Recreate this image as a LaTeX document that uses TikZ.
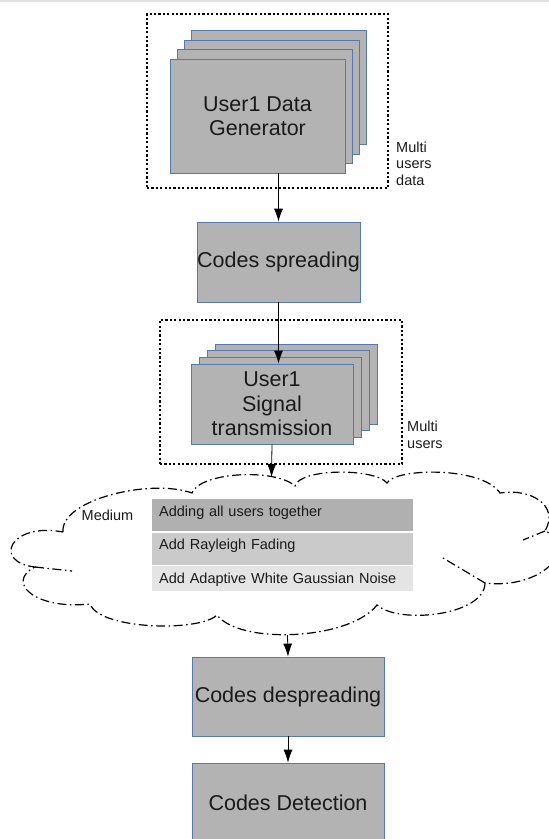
\documentclass[tikz,border=0pt]{standalone}
\usepackage{fontspec}
\setmainfont{Liberation Sans}
\usepackage{tikz}
\usetikzlibrary{arrows.meta,shapes,calc}
\definecolor{cajagris}{HTML}{B3B3B3}
\definecolor{bordeazul}{HTML}{5478B0}
\definecolor{texto}{HTML}{1A1A1A}
\definecolor{fila1}{HTML}{B0B0B0}
\definecolor{fila2}{HTML}{CACACA}
\definecolor{fila3}{HTML}{E4E4E4}
\tikzstyle{edge}=[-{Latex[length=13pt,width=9pt]}, line width=0.8pt]

\begin{document}
\begin{tikzpicture}[x=1pt,y=-1pt,
          caja/.style={rectangle,draw=bordeazul,fill=cajagris,line width=0.8pt,
                       text=texto,inner sep=0pt,align=center,
                       font=\fontsize{21.5}{24.5}\selectfont},
          marco/.style={rectangle,draw=black,line width=1.5pt,
                        dash pattern=on 2.2pt off 2.2pt,inner sep=0pt},
          nube/.style={draw=black,line width=1.2pt,
                       dash pattern=on 9pt off 3.5pt on 1.5pt off 3.5pt},
          nota/.style={anchor=north west,inner sep=0pt,align=left,text=texto,
                       font=\fontsize{14.5}{16.5}\selectfont},
          fila/.style={rectangle,anchor=north west,inner xsep=7pt,inner ysep=0pt,
                       text width=247pt,align=left,text=texto,
                       font=\fontsize{14.5}{16}\selectfont}]
        \useasboundingbox (0,0) rectangle (549,839);
        \fill[black!12] (0,0) rectangle (549,2);

        % generadores de datos
        \node [marco,minimum width=241pt,minimum height=174pt] (m1) at (267.5,101) {};
        \foreach \i in {3,2,1}
          \node [caja,minimum width=175pt,minimum height=114pt] (g\i) at ({257.5+7*\i},{116-9.5*\i}) {};
        \node [caja,minimum width=175pt,minimum height=114pt] (gen) at (257.5,116) {User1 Data\\Generator};
        \node [nota] (n1) at (396,141.5) {Multi\\users\\data};

        \node [caja,minimum width=163pt,minimum height=80pt] (spread) at (278.5,262) {Codes spreading};

        % transmision
        \node [marco,minimum width=242pt,minimum height=144pt] (m2) at (281,392) {};
        \foreach \i in {3,2,1}
          \node [caja,minimum width=162pt,minimum height=80pt] (t\i) at ({272+8*\i},{404-6.7*\i}) {};
        \node [caja,minimum width=162pt,minimum height=80pt] (tx) at (272,404) {User1\\Signal\\transmission};
        \node [nota] (n2) at (407,421) {Multi\\users};

        % medio (nube)
        \draw [nube] (63,532) .. controls (60,500) and (150,478) .. (192,493)
              .. controls (200,472) and (275,468) .. (295,486)
              .. controls (300,468) and (375,468) .. (387,483)
              .. controls (395,468) and (482,466) .. (500,493)
              .. controls (530,488) and (560,505) .. (545,531)
              .. controls (580,545) and (545,590) .. (485,583)
              .. controls (485,615) and (400,625) .. (377,605)
              .. controls (350,640) and (240,645) .. (217,615)
              .. controls (200,632) and (100,630) .. (90,604)
              .. controls (35,610) and (5,582) .. (35,567)
              .. controls (-8,562) and (10,522) .. cycle;
        \draw [nube] (35,567) -- (72,571);
        \draw [nube] (485,583) -- (443,558);
        \draw [nube] (545,531) -- (523,540);
        \coordinate (ent) at (271.5,477);
        \coordinate (sal) at (287.5,635);
        \node [text=texto,font=\fontsize{14.5}{16}\selectfont] (medtxt) at (107.5,515.5) {Medium};
        \node [fila,fill=fila1,text height=17.7pt,text depth=14.3pt] (f1) at (152,499) {Adding all users together};
        \node [fila,fill=fila2,text height=16.8pt,text depth=15.2pt] (f2) at (152,532.5) {Add Rayleigh Fading};
        \node [fila,fill=fila3,text height=17.3pt,text depth=7.7pt] (f3) at (152,566) {Add Adaptive White Gaussian Noise};

        % receptor
        \node [caja,minimum width=192pt,minimum height=79pt] (despread) at (288,696.5) {Codes despreading};
        \node [caja,minimum width=192pt,minimum height=79pt] (detect) at (288,802.5) {Codes Detection};

        \draw [edge] (gen.south -| spread.north) -- (spread.north);
        \draw [edge] (spread.south) -- (spread.south |- tx.north);
        \draw [edge] (tx.south) -- (ent);
        \draw [edge] (sal) -- (despread.north);
        \draw [edge] (despread.south) -- (detect.north);
      \end{tikzpicture}
\end{document}
